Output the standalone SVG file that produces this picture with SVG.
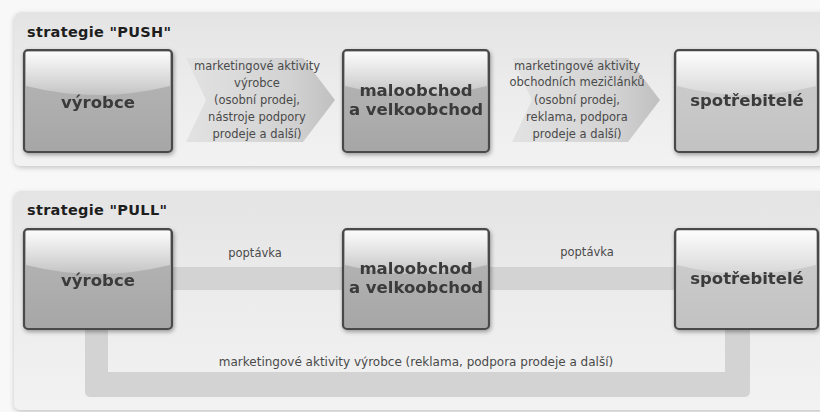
<svg xmlns="http://www.w3.org/2000/svg" width="820" height="412" viewBox="0 0 820 412">
<defs>
<linearGradient id="gPanel" x1="0" y1="0" x2="0" y2="1">
<stop offset="0" stop-color="#e4e4e4"/>
<stop offset="0.5" stop-color="#ececec"/>
<stop offset="1" stop-color="#f2f2f2"/>
</linearGradient>
<linearGradient id="gBox" x1="0" y1="0" x2="0" y2="1">
<stop offset="0" stop-color="#b8b8b8"/>
<stop offset="1" stop-color="#a6a6a6"/>
</linearGradient>
<linearGradient id="gBoxL" x1="0" y1="0" x2="0" y2="1">
<stop offset="0" stop-color="#cfcfcf"/>
<stop offset="1" stop-color="#c2c2c2"/>
</linearGradient>
<linearGradient id="gHi" x1="0" y1="0" x2="0" y2="1">
<stop offset="0" stop-color="#ffffff" stop-opacity="0.95"/>
<stop offset="1" stop-color="#ffffff" stop-opacity="0.25"/>
</linearGradient>
<linearGradient id="gArrow" x1="0" y1="0" x2="1" y2="0">
<stop offset="0" stop-color="#e2e2e2"/>
<stop offset="0.7" stop-color="#d2d2d2"/>
<stop offset="1" stop-color="#c0c0c0"/>
</linearGradient>
<filter id="sh" x="-10%" y="-10%" width="120%" height="130%">
<feDropShadow dx="1" dy="2" stdDeviation="2" flood-color="#000" flood-opacity="0.35"/>
</filter>
<filter id="shP" x="-5%" y="-10%" width="110%" height="130%">
<feDropShadow dx="0" dy="2" stdDeviation="2.5" flood-color="#000" flood-opacity="0.2"/>
</filter>
</defs>
<style>
.panel{fill:url(#gPanel);filter:url(#shP)}
.box{fill:url(#gBox);stroke:#4a4a4a;stroke-width:2.2}
.boxL{fill:url(#gBoxL);stroke:#4a4a4a;stroke-width:2.2}
.hi{fill:url(#gHi)}
.title{font-family:"DejaVu Sans",sans-serif;font-weight:bold;font-size:14.5px;fill:#1e1e1e;letter-spacing:0.3px}
.bt{font-family:"DejaVu Sans",sans-serif;font-weight:bold;font-size:16.5px;fill:#3a3a3a;text-anchor:middle}
.st{font-family:"DejaVu Sans",sans-serif;font-size:11.5px;fill:#4a4a4a;text-anchor:middle}
.bottom{font-size:12px}
.band{fill:#d3d3d3}
.arrow{fill:url(#gArrow)}
</style>
<rect x="0" y="0" width="820" height="412" fill="#f8f8f8"/>

<g id="panel-push">
<rect class="panel" x="14" y="12" width="820" height="154" rx="7"/>
<text class="title" x="27" y="37">strategie "PUSH"</text>
</g>
<g id="panel-pull">
<rect class="panel" x="14" y="191" width="820" height="219" rx="7"/>
<text class="title" x="27" y="215">strategie "PULL"</text>
</g>

<g id="connectors">
<polygon class="arrow" points="186,58 303,58 335,100 303,142 186,142 206,100"/>
<polygon class="arrow" points="512,58 628,58 660,100 628,142 512,142 532,100"/>
<rect class="band" x="170" y="267" width="508" height="23"/>
<path class="band" d="M85,328 H108 V372 H725 V328 H750 V391 Q750,397 744,397 H91 Q85,397 85,391 Z"/>
</g>

<g id="labels">
<text class="st" x="257" y="70">marketingové aktivity</text>
<text class="st" x="257" y="87">výrobce</text>
<text class="st" x="257" y="104">(osobní prodej,</text>
<text class="st" x="257" y="121">nástroje podpory</text>
<text class="st" x="257" y="138">prodeje a další)</text>
<text class="st" x="577" y="70">marketingové aktivity</text>
<text class="st" x="577" y="86">obchodních mezičlánků</text>
<text class="st" x="577" y="104">(osobní prodej,</text>
<text class="st" x="577" y="121">reklama, podpora</text>
<text class="st" x="577" y="138">prodeje a další)</text>
<text class="st" x="255" y="257">poptávka</text>
<text class="st" x="587" y="256">poptávka</text>
<text class="st bottom" x="416" y="366">marketingové aktivity výrobce (reklama, podpora prodeje a další)</text>
</g>

<g id="push-vyrobce" filter="url(#sh)">
<rect class="box" x="24" y="50" width="148" height="102" rx="4"/>
<path class="hi" d="M26,52 H170 V86 Q98,104 26,86 Z"/>
<text class="bt" x="98" y="108">výrobce</text>
</g>
<g id="push-maloobchod" filter="url(#sh)">
<rect class="box" x="343" y="50" width="146" height="102" rx="4"/>
<path class="hi" d="M345,52 H487 V86 Q416,104 345,86 Z"/>
<text class="bt" x="416" y="96">maloobchod</text>
<text class="bt" x="416" y="115">a velkoobchod</text>
</g>
<g id="push-spotrebitele" filter="url(#sh)">
<rect class="boxL" x="675" y="50" width="143" height="102" rx="4"/>
<path class="hi" d="M677,52 H816 V86 Q746,104 677,86 Z"/>
<text class="bt" x="747" y="106">spotřebitelé</text>
</g>

<g id="pull-vyrobce" filter="url(#sh)">
<rect class="box" x="24" y="229" width="148" height="100" rx="4"/>
<path class="hi" d="M26,231 H170 V265 Q98,283 26,265 Z"/>
<text class="bt" x="98" y="286">výrobce</text>
</g>
<g id="pull-maloobchod" filter="url(#sh)">
<rect class="box" x="343" y="229" width="146" height="100" rx="4"/>
<path class="hi" d="M345,231 H487 V265 Q416,283 345,265 Z"/>
<text class="bt" x="416" y="274">maloobchod</text>
<text class="bt" x="416" y="293">a velkoobchod</text>
</g>
<g id="pull-spotrebitele" filter="url(#sh)">
<rect class="boxL" x="675" y="229" width="143" height="100" rx="4"/>
<path class="hi" d="M677,231 H816 V265 Q746,283 677,265 Z"/>
<text class="bt" x="747" y="284">spotřebitelé</text>
</g>
</svg>
